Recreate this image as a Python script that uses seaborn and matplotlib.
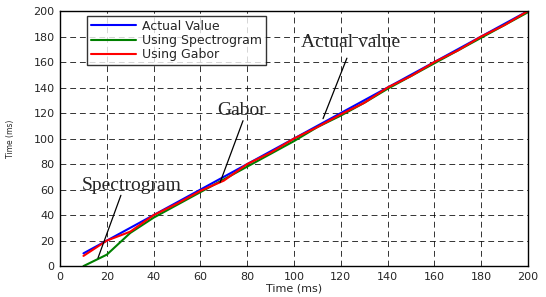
import matplotlib
matplotlib.use("Agg")
import matplotlib.pyplot as plt
import seaborn as sns
import pandas as pd

time_ms = [10, 20, 30, 40, 50, 60, 70, 80, 90, 100, 110, 120, 130, 140, 150, 160, 170, 180, 190, 200]
actual = [10, 20, 30, 40, 50, 60, 70, 80, 90, 100, 110, 120, 130, 140, 150, 160, 170, 180, 190, 200]
spectrogram = [0, 9, 26, 38, 48, 58, 68, 78, 88, 98, 109, 118, 128, 139, 149, 159, 169, 179, 189, 199]
gabor = [8, 20, 27, 40, 49, 59, 67, 80, 89, 100, 109, 119, 128, 140, 149, 160, 169, 180, 189, 200]

series_names = ["Actual Value", "Using Spectrogram", "Using Gabor"]
colors = ["#0000ff", "#008000", "#ff0000"]

annot_labels = ["Spectrogram", "Gabor", "Actual value"]
annot_text_pos = [(30.8, 63), (77.4, 122), (124, 175)]
annot_line_start = [(26, 55.5), (78.2, 114), (122.6, 163)]
annot_line_end = [(16.2, 6.3), (68.4, 65.6), (112.4, 115.6)]

df = pd.concat([
    pd.DataFrame({"t": time_ms, "v": actual, "s": series_names[0]}),
    pd.DataFrame({"t": time_ms, "v": spectrogram, "s": series_names[1]}),
    pd.DataFrame({"t": time_ms, "v": gabor, "s": series_names[2]}),
])

sns.set_style("white")
plt.rcParams["font.family"] = ["DejaVu Sans"]

fig = plt.figure(figsize=(5.46, 2.97), dpi=100)
ax = fig.add_axes([0.110, 0.104, 0.857, 0.859])

sns.lineplot(data=df, x="t", y="v", hue="s", palette=colors, hue_order=series_names,
             ax=ax, linewidth=1.5, legend=True, sort=False)

ax.set_xlim(0, 200)
ax.set_ylim(0, 200)
ax.set_xticks(range(0, 201, 20))
ax.set_yticks(range(0, 201, 20))
ax.tick_params(direction="in", length=4, width=0.8, labelsize=8, color="black", pad=4)
ax.grid(True, color="black", linestyle=(0, (6, 4)), linewidth=0.7, alpha=0.8)
for sp in ax.spines.values():
    sp.set_color("black")
    sp.set_linewidth(1.0)

ax.set_xlabel("Time (ms)", fontsize=8, labelpad=1)
ax.set_ylabel("Time (ms)", fontsize=5.5, labelpad=13)

leg = ax.legend(loc="upper left", bbox_to_anchor=(0.058, 0.98), fontsize=9,
                frameon=True, fancybox=False, edgecolor="black", handlelength=3.6,
                borderpad=0.3, labelspacing=0.1, handletextpad=0.5, borderaxespad=0)
leg.get_frame().set_linewidth(1.0)

serif = ["Liberation Serif", "DejaVu Serif"]
for lab, tpos, ls, le in zip(annot_labels, annot_text_pos, annot_line_start, annot_line_end):
    ax.text(tpos[0], tpos[1], lab, fontsize=14, family=serif, ha="center", va="center")
    ax.annotate("", xy=le, xytext=ls,
                arrowprops=dict(arrowstyle="-", color="black", lw=0.9, shrinkA=0, shrinkB=0))

fig.savefig("out.png", dpi=100)
